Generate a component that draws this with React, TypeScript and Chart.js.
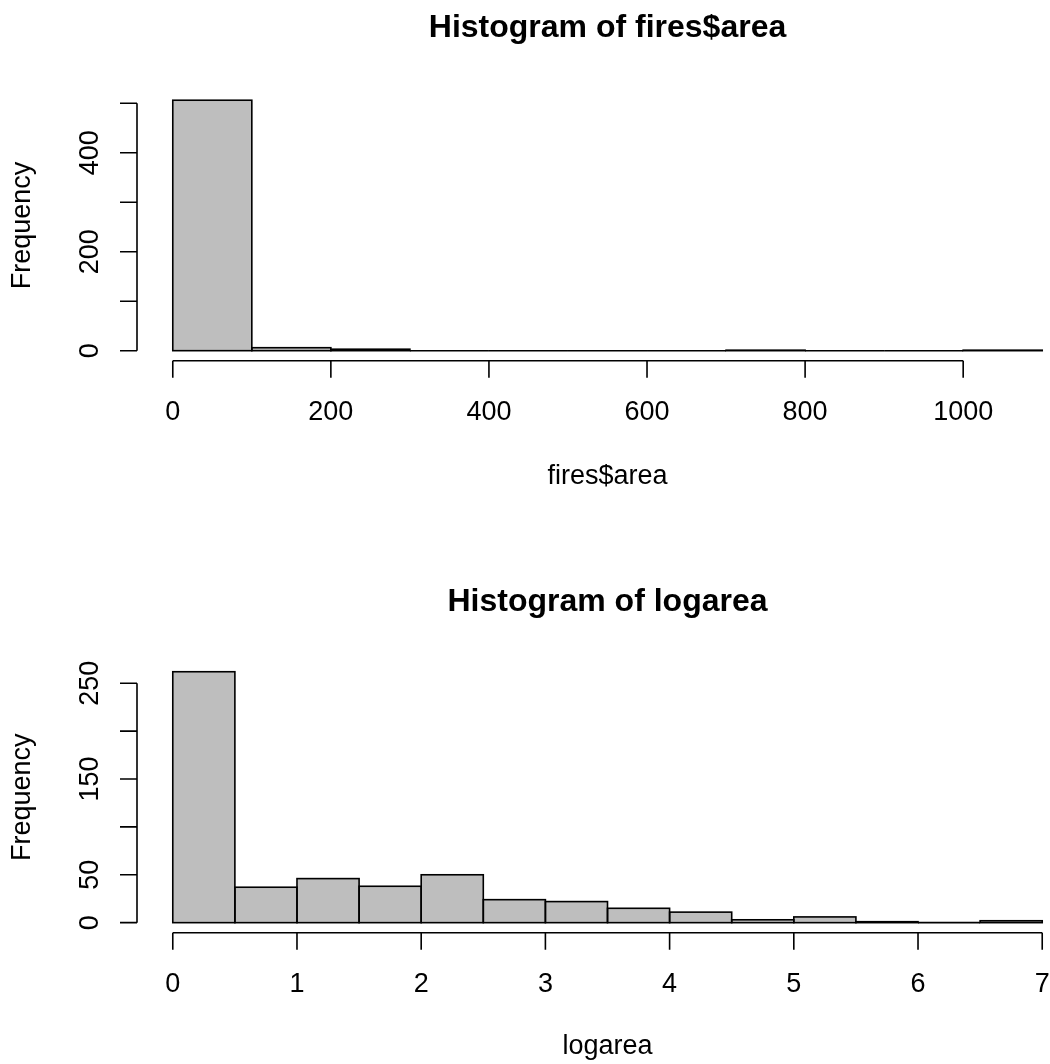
import React, { useEffect, useRef } from "react";
import { Chart, registerables } from "chart.js";

Chart.register(...registerables);

// ---- Data: histogram of fires$area ----
const areaBinStarts = [0, 100, 200, 300, 400, 500, 600, 700, 800, 900, 1000];
const areaBinWidth = 100;
const areaCounts = [506, 6, 3, 0, 0, 0, 0, 1, 0, 0, 1];
const areaXTicks = [0, 200, 400, 600, 800, 1000];
const areaXTickLabels = ["0", "200", "400", "600", "800", "1000"];
const areaYTicks = [0, 100, 200, 300, 400, 500];
const areaYTickLabels = ["0", "", "200", "", "400", ""];

// ---- Data: histogram of logarea ----
const logBinStarts = [0, 0.5, 1, 1.5, 2, 2.5, 3, 3.5, 4, 4.5, 5, 5.5, 6, 6.5];
const logBinWidth = 0.5;
const logCounts = [262, 37, 46, 38, 50, 24, 22, 15, 11, 3, 6, 1, 0, 2];
const logXTicks = [0, 1, 2, 3, 4, 5, 6, 7];
const logXTickLabels = ["0", "1", "2", "3", "4", "5", "6", "7"];
const logYTicks = [0, 50, 100, 150, 200, 250];
const logYTickLabels = ["0", "50", "", "150", "", "250"];

const FONT = '"Liberation Sans", Arial, Helvetica, sans-serif';
const BASE = 27;
const TITLE = 32;
const LW = 1.6;
const TICK = 17;
// fraction of R's plot region that remains visible inside the 1050px canvas
const VISIBLE = 912 / 939;

type Spec = {
  title: string;
  xlab: string;
  starts: number[];
  width: number;
  counts: number[];
  xTicks: number[];
  xLabels: string[];
  yTicks: number[];
  yLabels: string[];
  padTop: number;
  padBottom: number;
  titleBaseline: number;
  tickLabelBaseline: number;
  xlabBaseline: number;
};

function makeChart(canvas: HTMLCanvasElement, s: Spec) {
  const lo = s.starts[0];
  const hi = s.starts[s.starts.length - 1] + s.width;
  const range = hi - lo;
  const xmin = lo - 0.04 * range;
  const xmax = xmin + VISIBLE * 1.08 * range;
  const ymaxData = Math.max(...s.counts);
  const ymin = -0.04 * ymaxData;
  const ymax = 1.04 * ymaxData;

  const rPlugin = {
    id: "rstyle",
    afterDatasetsDraw(chart: any) {
      const ctx = chart.ctx as CanvasRenderingContext2D;
      const xs = chart.scales.x;
      const ys = chart.scales.y;
      const area = chart.chartArea;
      ctx.save();
      ctx.strokeStyle = "#000";
      ctx.fillStyle = "#000";
      ctx.lineWidth = LW;

      // bar outlines (R style, centered on edges)
      const meta = chart.getDatasetMeta(0);
      meta.data.forEach((el: any) => {
        const left = el.x - el.width / 2;
        const top = Math.min(el.y, el.base);
        const h = Math.abs(el.base - el.y);
        ctx.strokeRect(left, top, el.width, h);
      });

      // x axis
      const xAxisY = area.bottom;
      const x0 = xs.getPixelForValue(s.xTicks[0]);
      const x1 = xs.getPixelForValue(s.xTicks[s.xTicks.length - 1]);
      ctx.beginPath();
      ctx.moveTo(x0, xAxisY);
      ctx.lineTo(x1, xAxisY);
      s.xTicks.forEach((t) => {
        const px = xs.getPixelForValue(t);
        ctx.moveTo(px, xAxisY);
        ctx.lineTo(px, xAxisY + TICK);
      });
      ctx.stroke();
      ctx.font = `${BASE}px ${FONT}`;
      ctx.textAlign = "center";
      ctx.textBaseline = "alphabetic";
      s.xTicks.forEach((t, i) => {
        ctx.fillText(s.xLabels[i], xs.getPixelForValue(t), s.tickLabelBaseline);
      });

      // y axis
      const yAxisX = area.left - 1;
      const y0 = ys.getPixelForValue(s.yTicks[0]);
      const y1 = ys.getPixelForValue(s.yTicks[s.yTicks.length - 1]);
      ctx.beginPath();
      ctx.moveTo(yAxisX, y0);
      ctx.lineTo(yAxisX, y1);
      s.yTicks.forEach((t) => {
        const py = ys.getPixelForValue(t);
        ctx.moveTo(yAxisX, py);
        ctx.lineTo(yAxisX - TICK, py);
      });
      ctx.stroke();
      s.yTicks.forEach((t, i) => {
        if (!s.yLabels[i]) return;
        ctx.save();
        ctx.translate(98, ys.getPixelForValue(t));
        ctx.rotate(-Math.PI / 2);
        ctx.textAlign = "center";
        ctx.fillText(s.yLabels[i], 0, 0);
        ctx.restore();
      });

      // y label
      ctx.save();
      ctx.translate(30, (area.top + area.bottom) / 2);
      ctx.rotate(-Math.PI / 2);
      ctx.textAlign = "center";
      ctx.fillText("Frequency", 0, 0);
      ctx.restore();

      // centre of R's full plot region
      const cx =
        (xs.getPixelForValue(lo - 0.04 * range) + xs.getPixelForValue(hi + 0.04 * range)) / 2;
      ctx.fillText(s.xlab, cx, s.xlabBaseline);
      ctx.font = `bold ${TITLE}px ${FONT}`;
      ctx.fillText(s.title, cx, s.titleBaseline);
      ctx.restore();
    },
  };

  return new Chart(canvas, {
    type: "bar",
    data: {
      datasets: [
        {
          data: s.starts.map((st, i) => ({ x: st + s.width / 2, y: s.counts[i] })),
          backgroundColor: "#BEBEBE",
          borderWidth: 0,
          barThickness: "flex",
          barPercentage: 1,
          categoryPercentage: 1,
          inflateAmount: 0,
        } as any,
      ],
    },
    options: {
      animation: false,
      responsive: false,
      maintainAspectRatio: false,
      devicePixelRatio: 1,
      layout: { padding: { left: 138, right: 0, top: s.padTop, bottom: s.padBottom } },
      plugins: { legend: { display: false }, tooltip: { enabled: false }, title: { display: false } },
      scales: {
        x: {
          type: "linear",
          display: false,
          min: xmin,
          max: xmax,
          offset: false,
        },
        y: { type: "linear", display: false, min: ymin, max: ymax },
      },
    },
    plugins: [rPlugin],
  });
}

export default function App() {
  const topRef = useRef<HTMLCanvasElement>(null);
  const botRef = useRef<HTMLCanvasElement>(null);

  useEffect(() => {
    document.body.style.margin = "0";
    const c1 = makeChart(topRef.current!, {
      title: "Histogram of fires$area",
      xlab: "fires$area",
      starts: areaBinStarts,
      width: areaBinWidth,
      counts: areaCounts,
      xTicks: areaXTicks,
      xLabels: areaXTickLabels,
      yTicks: areaYTicks,
      yLabels: areaYTickLabels,
      padTop: 90.2,
      padBottom: 532 - 360.7,
      titleBaseline: 37,
      tickLabelBaseline: 420,
      xlabBaseline: 484,
    });
    const c2 = makeChart(botRef.current!, {
      title: "Histogram of logarea",
      xlab: "logarea",
      starts: logBinStarts,
      width: logBinWidth,
      counts: logCounts,
      xTicks: logXTicks,
      xLabels: logXTickLabels,
      yTicks: logYTicks,
      yLabels: logYTickLabels,
      padTop: 661.7 - 532,
      padBottom: 532 - 400.7,
      titleBaseline: 37 + 42,
      tickLabelBaseline: 420 + 40,
      xlabBaseline: 484 + 38,
    });
    return () => {
      c1.destroy();
      c2.destroy();
    };
  }, []);

  return (
    <div style={{ position: "relative", width: 1050, height: 1064, background: "#fff" }}>
      <canvas ref={topRef} width={1050} height={532} style={{ position: "absolute", left: 0, top: 0, width: 1050, height: 532 }} />
      <canvas ref={botRef} width={1050} height={532} style={{ position: "absolute", left: 0, top: 532, width: 1050, height: 532 }} />
    </div>
  );
}
